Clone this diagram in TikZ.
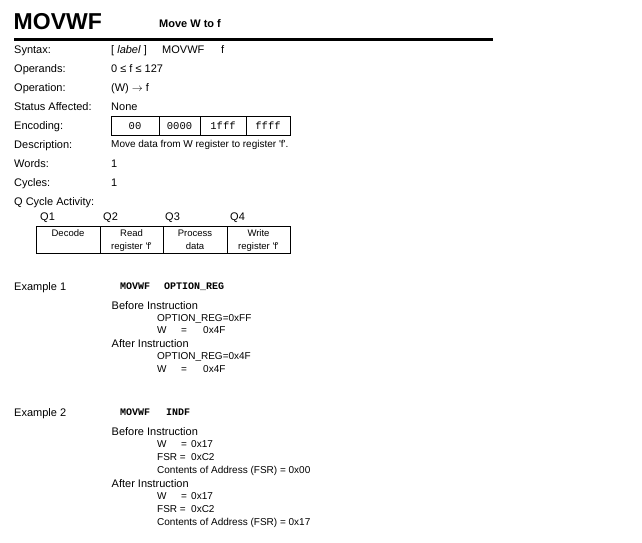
\documentclass[tikz,border=0pt]{standalone}
\usepackage{fontspec}
\setmainfont{Liberation Sans}
\setmonofont{Liberation Mono}
\begin{document}
\begin{tikzpicture}[x=1pt,y=-1pt,
  txt/.style={anchor=base west,inner sep=0pt,font=\fontsize{11}{13}\selectfont},
  sm/.style={anchor=base west,inner sep=0pt,font=\fontsize{10}{12}\selectfont},
  cell/.style={anchor=base,inner sep=0pt,font=\fontsize{9.5}{11}\selectfont},
  code/.style={anchor=base,inner sep=0pt,font=\ttfamily\fontsize{10.5}{12}\selectfont},
  excode/.style={anchor=base west,inner sep=0pt,font=\ttfamily\bfseries\fontsize{10}{12}\selectfont},
  boxline/.style={draw=black,line width=0.8pt},
]
\useasboundingbox[fill=white] (0,0) rectangle (642,543);
% title
\node[anchor=base west,inner sep=0pt,font=\bfseries\fontsize{23}{26}\selectfont] (title) at (13.5,30) {MOVWF};
\node[anchor=base west,inner sep=0pt,font=\bfseries\fontsize{11}{13}\selectfont] (subtitle) at (159,27.5) {Move W to f};
\coordinate (ruleL) at (14,40);
\coordinate (ruleR) at (493,40);
\draw[line width=3pt] (ruleL) -- (ruleR);
% labels
\node[txt] (lSyn) at (14,53) {Syntax:};
\node[txt] (lOpd) at (14,72) {Operands:};
\node[txt] (lOpn) at (14,91) {Operation:};
\node[txt] (lSta) at (14,110) {Status Affected:};
\node[txt] (lEnc) at (14,129) {Encoding:};
\node[txt] (lDes) at (14,148) {Description:};
\node[txt] (lWor) at (14,167) {Words:};
\node[txt] (lCyc) at (14,186) {Cycles:};
\node[txt] (lQcy) at (14,205) {Q Cycle Activity:};
% values
\node[txt] (vSyn1) at (111,53) {[ \textit{label} ]};
\node[txt] (vSyn2) at (162,53) {MOVWF};
\node[txt] (vSyn3) at (221,53) {f};
\node[txt] (vOpd) at (111,72) {0 ≤ f ≤ 127};
\node[txt] (vOpn) at (111,91) {(W) $\rightarrow$ f};
\node[txt] (vSta) at (111,110) {None};
\node[sm] (vDes) at (111,147.5) {Move data from W register to register \textquotesingle f\textquotesingle.};
\node[txt] (vWor) at (111,167) {1};
\node[txt] (vCyc) at (111,186) {1};
% encoding box
\draw[boxline] (111,116) rectangle (290,135);
\draw[boxline] (159,116) -- (159,135);
\draw[boxline] (200,116) -- (200,135);
\draw[boxline] (246,116) -- (246,135);
\node[code] (e1) at (135,129) {00};
\node[code] (e2) at (179.5,129) {0000};
\node[code] (e3) at (223,129) {1fff};
\node[code] (e4) at (268,129) {ffff};
% Q cycle
\node[txt] (q1) at (40,220) {Q1};
\node[txt] (q2) at (103,220) {Q2};
\node[txt] (q3) at (165,220) {Q3};
\node[txt] (q4) at (230,220) {Q4};
\draw[boxline] (36,226) rectangle (290,253);
\draw[boxline] (100,226) -- (100,253);
\draw[boxline] (163,226) -- (163,253);
\draw[boxline] (227,226) -- (227,253);
\node[cell] (c1) at (68,236.5) {Decode};
\node[cell] (c2a) at (131.5,236.5) {Read};
\node[cell] (c2b) at (131.5,249.5) {register \textquotesingle f\textquotesingle};
\node[cell] (c3a) at (195,236.5) {Process};
\node[cell] (c3b) at (195,249.5) {data};
\node[cell] (c4a) at (258.5,236.5) {Write};
\node[cell] (c4b) at (258.5,249.5) {register \textquotesingle f\textquotesingle};
% Example 1
\node[txt] (ex1) at (14,290) {Example 1};
\node[excode] (ex1a) at (120,289) {MOVWF};
\node[excode] (ex1b) at (164,289) {OPTION\_REG};
\node[txt] (ex1bi) at (111.5,309) {Before Instruction};
\node[sm] (ex1o1) at (157,321.6) {OPTION\_REG=0xFF};
\node[sm] (ex1w1) at (157,333.6) {W};
\node[sm] (ex1w1e) at (181,333.6) {=};
\node[sm] (ex1w1v) at (203,333.6) {0x4F};
\node[txt] (ex1ai) at (111.5,347) {After Instruction};
\node[sm] (ex1o2) at (157,359.6) {OPTION\_REG=0x4F};
\node[sm] (ex1w2) at (157,372.6) {W};
\node[sm] (ex1w2e) at (181,372.6) {=};
\node[sm] (ex1w2v) at (203,372.6) {0x4F};
% Example 2
\node[txt] (ex2) at (14,416) {Example 2};
\node[excode] (ex2a) at (120,415) {MOVWF};
\node[excode] (ex2b) at (166,415) {INDF};
\node[txt] (ex2bi) at (111.5,435) {Before Instruction};
\node[sm] (ex2w1) at (157,447.6) {W};
\node[sm] (ex2w1e) at (181,447.6) {=};
\node[sm] (ex2w1v) at (191,447.6) {0x17};
\node[sm] (ex2f1) at (157,460.6) {FSR =};
\node[sm] (ex2f1v) at (191,460.6) {0xC2};
\node[sm] (ex2c1) at (157,473.6) {Contents of Address (FSR) = 0x00};
\node[txt] (ex2ai) at (111.5,487) {After Instruction};
\node[sm] (ex2w2) at (157,499.6) {W};
\node[sm] (ex2w2e) at (181,499.6) {=};
\node[sm] (ex2w2v) at (191,499.6) {0x17};
\node[sm] (ex2f2) at (157,512.6) {FSR =};
\node[sm] (ex2f2v) at (191,512.6) {0xC2};
\node[sm] (ex2c2) at (157,525.6) {Contents of Address (FSR) = 0x17};
\end{tikzpicture}
\end{document}
